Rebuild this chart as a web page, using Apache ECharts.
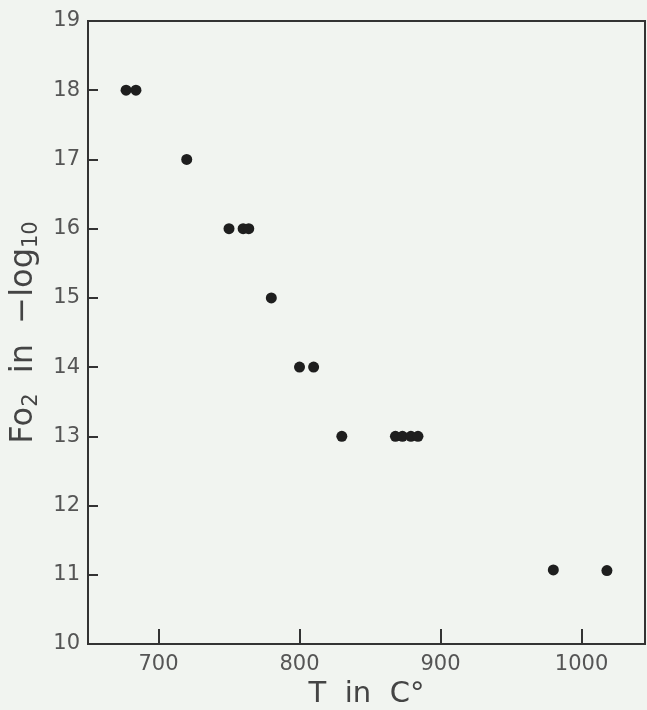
<!DOCTYPE html>
<html>
<head>
<meta charset="utf-8">
<script src="https://cdn.jsdelivr.net/npm/echarts@6/dist/echarts.min.js"></script>
<style>
  html, body { margin: 0; padding: 0; background: #f1f4f0; }
  #chart { width: 647px; height: 710px; }
</style>
</head>
<body>
<div id="chart"></div>
<script>
// temperature (C) and oxygen fugacity (-log10)
const tempC = [677, 684, 720, 750, 760, 764, 780, 800, 810, 830, 868, 873, 879, 884, 980, 1018]
const logFo2 = [18, 18, 17, 16, 16, 16, 15, 14, 14, 13, 13, 13, 13, 13, 11.07, 11.06]
const xTicks = [700, 800, 900, 1000]

const points = tempC.map((t, i) => [t, logFo2[i]])
const ink = '#333'
const font = 'DejaVu Sans'

const chart = echarts.init(document.getElementById('chart'))
chart.setOption({
  backgroundColor: '#f1f4f0',
  animation: false,
  grid: {
    left: 88, right: 2, top: 21, bottom: 66,
    outerBoundsMode: 'none',
    containLabel: false,
    show: true, borderColor: ink, borderWidth: 2,
  },
  xAxis: {
    type: 'value',
    min: 650,
    max: 1045,
    name: 'T  in  C°',
    nameLocation: 'middle',
    nameGap: 34,
    nameTextStyle: { fontFamily: font, fontSize: 29, color: '#444' },
    splitLine: { show: false },
    axisLine: { lineStyle: { color: ink, width: 2 } },
    axisTick: { inside: true, length: 15, customValues: xTicks, lineStyle: { color: ink, width: 2 } },
    axisLabel: {
      customValues: xTicks,
      formatter: v => String(v),
      fontFamily: font, fontSize: 21, color: '#555', margin: 10,
    },
  },
  yAxis: {
    type: 'value',
    min: 10,
    max: 19,
    interval: 1,
    name: '{n|Fo}{s|2}{n|  in  −log}{s|10}',
    nameLocation: 'middle',
    nameRotate: 90,
    nameGap: 46,
    nameTextStyle: {
      rich: {
        n: { fontFamily: font, fontSize: 32, color: '#444' },
        s: { fontFamily: font, fontSize: 21, color: '#444', verticalAlign: 'bottom', padding: [16, 0, 0, 0] },
      },
    },
    splitLine: { show: false },
    axisLine: { lineStyle: { color: ink, width: 2 } },
    axisTick: { inside: true, length: 10, lineStyle: { color: ink, width: 2 } },
    axisLabel: { fontFamily: font, fontSize: 21, color: '#555', margin: 8 },
  },
  series: [{
    type: 'scatter',
    data: points,
    symbolSize: 11,
    itemStyle: { color: '#1e1e1e', opacity: 1 },
  }],
})
</script>
</body>
</html>
